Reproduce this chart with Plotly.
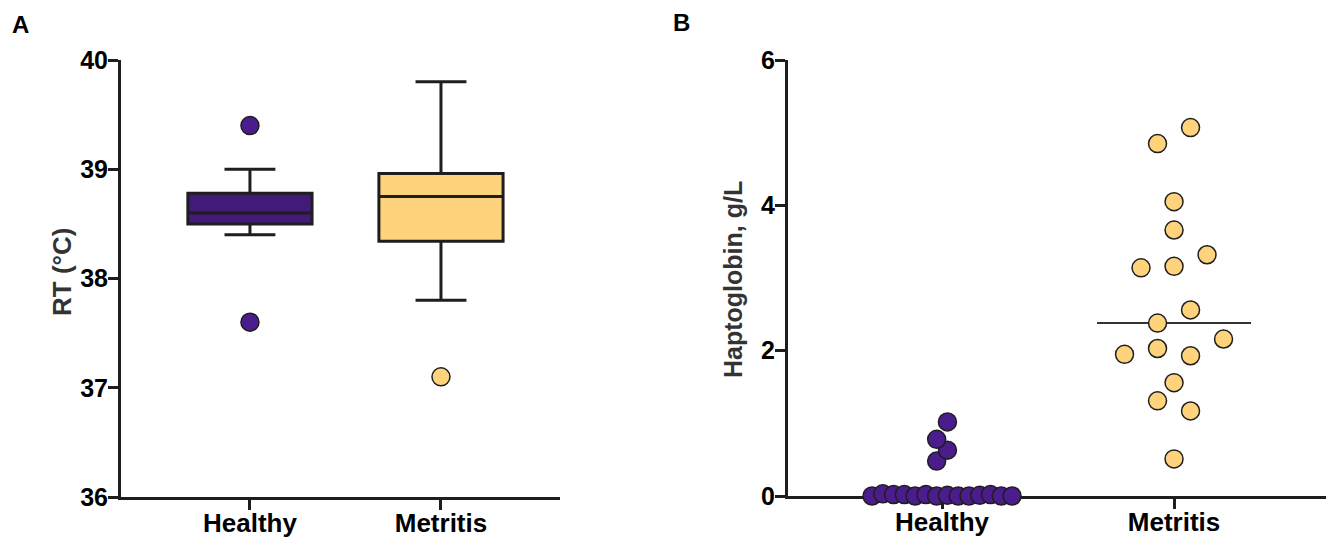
import numpy as np
import plotly.graph_objects as go

# ---------------- data ----------------
categories = ["Healthy", "Metritis"]

# Panel A: rectal temperature box plots (Tukey)
rt_q1 = [38.50, 38.34]
rt_median = [38.60, 38.75]
rt_q3 = [38.78, 38.96]
rt_lower = [38.40, 37.80]
rt_upper = [39.00, 39.80]
rt_outliers_healthy = [39.4, 37.6]
rt_outliers_metritis = [37.1]
rt_ticks = [36, 37, 38, 39, 40]

# Panel B: haptoglobin (g/L) individual values
hp_healthy = [0.0, 0.03, 0.02, 0.02, 0.0, 0.02, 0.0, 0.01, 0.0, 0.0, 0.01, 0.02, 0.0, 0.0,
              0.48, 0.63, 0.78, 1.02]
hp_metritis = [0.51, 1.31, 1.17, 1.56, 1.95, 2.03, 1.93, 2.16, 2.38, 2.56,
               3.14, 3.16, 3.32, 3.66, 4.05, 4.85, 5.07]
hp_ticks = [0, 2, 4, 6]

# ---------------- styling ----------------
W, H = 1329, 544
PURPLE_BOX = "#43197a"
PURPLE_DOT = "#4b1c8c"
YELLOW = "#ffd37c"
INK = "#1e1e1e"
FONT = "Arial, Liberation Sans, sans-serif"

# pixel geometry of the two panels
A_left, A_right, A_top, A_bottom = 121, 560, 60, 497
B_left, B_right, B_top, B_bottom = 788, 1326, 60, 496
A_xrange = [-0.675, 1.623]
B_xrange = [-0.664, 1.655]
B_yrange = [0, 6]


def px(v, total):
    return v / total


def swarm_offsets(values, yrange, ypix, xrange_, xpix, dot_px=19, step_px=33, max_span_px=140):
    """Prism-like scatter-dot layout: rows of nearby values spread symmetrically."""
    px_per_y = ypix / (yrange[1] - yrange[0])
    px_per_x = xpix / (xrange_[1] - xrange_[0])
    order = sorted(range(len(values)), key=lambda i: values[i])
    rows = []
    for i in order:
        if rows and (values[i] - values[rows[-1][0]]) * px_per_y < dot_px:
            rows[-1].append(i)
        else:
            rows.append([i])
    nmax = max(len(r) for r in rows)
    step = step_px if nmax < 2 else min(step_px, max_span_px / (nmax - 1))
    offs = [0.0] * len(values)
    for r in rows:
        r = sorted(r)
        n = len(r)
        for k, i in enumerate(r):
            offs[i] = (k - (n - 1) / 2) * step / px_per_x
    return offs


fig = go.Figure()

# ---------- Panel A ----------
fills = [PURPLE_BOX, YELLOW]
for i, cat in enumerate(categories):
    fig.add_trace(go.Box(
        x=[i], q1=[rt_q1[i]], median=[rt_median[i]], q3=[rt_q3[i]],
        lowerfence=[rt_lower[i]], upperfence=[rt_upper[i]],
        width=0.65, whiskerwidth=0.41, fillcolor=fills[i],
        line=dict(color=INK, width=3), boxpoints=False, name=cat,
        xaxis="x", yaxis="y", showlegend=False, hoverinfo="skip"))

fig.add_trace(go.Scatter(
    x=[0] * len(rt_outliers_healthy), y=rt_outliers_healthy, mode="markers",
    marker=dict(size=18, color=PURPLE_DOT, line=dict(color=INK, width=1.5)),
    xaxis="x", yaxis="y", showlegend=False, cliponaxis=False))
fig.add_trace(go.Scatter(
    x=[1] * len(rt_outliers_metritis), y=rt_outliers_metritis, mode="markers",
    marker=dict(size=18, color=YELLOW, line=dict(color=INK, width=1.5)),
    xaxis="x", yaxis="y", showlegend=False, cliponaxis=False))

# ---------- Panel B ----------
B_xpix = B_right - B_left
B_ypix = B_bottom - B_top
B_px_per_x = B_xpix / (B_xrange[1] - B_xrange[0])
med_half = 77 / B_px_per_x

for i, (vals, col) in enumerate([(hp_healthy, PURPLE_DOT), (hp_metritis, YELLOW)]):
    med = float(np.median(vals))
    fig.add_trace(go.Scatter(
        x=[i - med_half, i + med_half], y=[med, med], mode="lines",
        line=dict(color="#333333", width=2), xaxis="x2", yaxis="y2",
        showlegend=False, hoverinfo="skip", cliponaxis=False))
    offs = swarm_offsets(vals, B_yrange, B_ypix, B_xrange, B_xpix)
    fig.add_trace(go.Scatter(
        x=[i + o for o in offs], y=vals, mode="markers",
        marker=dict(size=18, color=col, line=dict(color=INK, width=1.5)),
        xaxis="x2", yaxis="y2", showlegend=False, cliponaxis=False))

axis_common = dict(showgrid=False, zeroline=False, showline=True, linewidth=3,
                   linecolor=INK, ticks="outside", ticklen=10, tickwidth=3,
                   tickcolor=INK, automargin=False)
xfont = dict(size=26, weight="bold", family=FONT, color="black")
yfont = dict(size=25, weight="bold", family=FONT, color="black")

fig.update_layout(
    width=W, height=H, autosize=False,
    margin=dict(l=0, r=0, t=0, b=0, pad=0, autoexpand=False),
    paper_bgcolor="white", plot_bgcolor="white",
    font=dict(family=FONT, color="black"),
    xaxis=dict(**axis_common, domain=[px(A_left, W), px(A_right, W)], range=A_xrange,
               tickvals=[0, 1], ticktext=categories, anchor="y",
               ticklabelstandoff=-9, tickfont=xfont),
    yaxis=dict(**axis_common, domain=[1 - px(A_bottom, H), 1 - px(A_top, H)], range=[36, 40],
               tickvals=rt_ticks, anchor="x", ticklabelstandoff=-5, tickfont=yfont),
    xaxis2=dict(**axis_common, domain=[px(B_left, W), px(B_right, W)], range=B_xrange,
                tickvals=[0, 1], ticktext=categories, anchor="y2", layer="below traces",
                ticklabelstandoff=-9, tickfont=xfont),
    yaxis2=dict(**axis_common, domain=[1 - px(B_bottom, H), 1 - px(B_top, H)], range=B_yrange,
                tickvals=hp_ticks, anchor="x2", layer="below traces",
                ticklabelstandoff=-5, tickfont=yfont),
)

annots = [
    dict(text="<b>A</b>", x=px(20, W), y=1 - px(25, H), size=24, angle=0, color="black"),
    dict(text="<b>B</b>", x=px(681, W), y=1 - px(23, H), size=24, angle=0, color="black"),
    dict(text="<b>RT (°C)</b>", x=px(62, W), y=1 - px(272, H), size=26, angle=-90, color="#333333"),
    dict(text="<b>Haptoglobin, g/L</b>", x=px(733, W), y=1 - px(280, H), size=25, angle=-90, color="#333333"),
]
for a in annots:
    fig.add_annotation(text=a["text"], x=a["x"], y=a["y"], xref="paper", yref="paper",
                       xanchor="center", yanchor="middle", showarrow=False,
                       textangle=a["angle"], font=dict(size=a["size"], family=FONT, color=a["color"]))

fig.write_html("out.html", config={"displayModeBar": False},
               post_script="document.body.style.margin='0px';")
